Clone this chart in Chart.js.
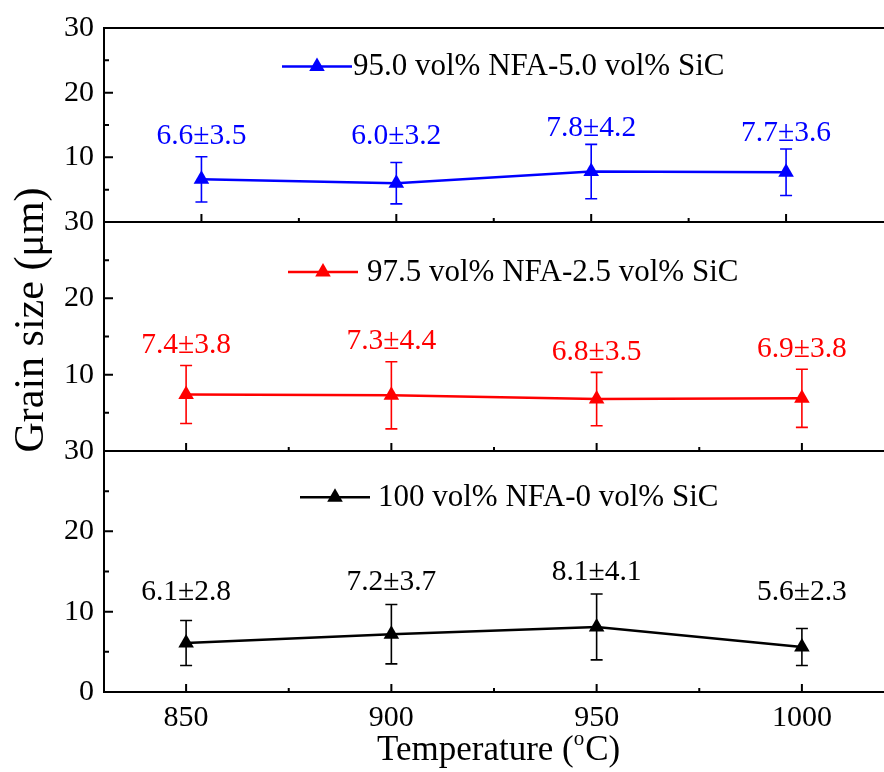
<!DOCTYPE html>
<html>
<head>
<meta charset="utf-8">
<script src="https://cdn.jsdelivr.net/npm/chart.js@4.4.0/dist/chart.umd.min.js"></script>
<style>
  html, body { margin: 0; padding: 0; background: #fff; }
  #wrap { position: relative; width: 884px; height: 772px; overflow: hidden; background: #fff; }
  #wrap canvas { position: absolute; left: 0; top: 0; }
</style>
</head>
<body>
<div id="wrap">
  <canvas id="p1" width="912" height="772"></canvas>
  <canvas id="p2" width="893" height="772"></canvas>
  <canvas id="p3" width="893" height="772"></canvas>
</div>
<script>
// data
const temps = [850, 900, 950, 1000];
const xTicks = [850, 900, 950, 1000];
const yTicks = [0, 10, 20, 30];

const sic5Label = '95.0 vol% NFA-5.0 vol% SiC';
const sic5Mean = [6.6, 6.0, 7.8, 7.7];
const sic5Err = [3.5, 3.2, 4.2, 3.6];

const sic25Label = '97.5 vol% NFA-2.5 vol% SiC';
const sic25Mean = [7.4, 7.3, 6.8, 6.9];
const sic25Err = [3.8, 4.4, 3.5, 3.8];

const sic0Label = '100 vol% NFA-0 vol% SiC';
const sic0Mean = [6.1, 7.2, 8.1, 5.6];
const sic0Err = [2.8, 3.7, 4.1, 2.3];

const yTitle = 'Grain size (\u03bcm)';
const FONT = '"Liberation Serif", "Times New Roman", serif';

function midpoints(arr) {
  const out = [];
  for (let i = 1; i < arr.length; i++) out.push((arr[i - 1] + arr[i]) / 2);
  return out;
}

function makeDeco(cfg) {
  return {
    id: 'deco',
    // error bars under the line and markers
    beforeDatasetsDraw(chart) {
      const { ctx, scales: { x, y } } = chart;
      ctx.save();
      ctx.strokeStyle = cfg.color;
      ctx.lineWidth = 1.6;
      ctx.beginPath();
      cfg.mean.forEach((m, i) => {
        const px = x.getPixelForValue(temps[i]);
        const top = y.getPixelForValue(m + cfg.err[i]);
        const bot = y.getPixelForValue(m - cfg.err[i]);
        ctx.moveTo(px, top); ctx.lineTo(px, bot);
        ctx.moveTo(px - 6, top); ctx.lineTo(px + 6, top);
        ctx.moveTo(px - 6, bot); ctx.lineTo(px + 6, bot);
      });
      ctx.stroke();
      ctx.restore();
    },
    afterDraw(chart) {
      const { ctx, chartArea: a, scales: { x, y } } = chart;
      ctx.save();

      // inward tick marks
      ctx.strokeStyle = '#000';
      ctx.lineWidth = 2;
      ctx.beginPath();
      xTicks.forEach(v => { const px = x.getPixelForValue(v); ctx.moveTo(px, a.bottom); ctx.lineTo(px, a.bottom - 8); });
      midpoints(xTicks).forEach(v => { const px = x.getPixelForValue(v); ctx.moveTo(px, a.bottom); ctx.lineTo(px, a.bottom - 4); });
      yTicks.forEach(v => { const py = y.getPixelForValue(v); ctx.moveTo(a.left, py); ctx.lineTo(a.left + 9, py); });
      midpoints(yTicks).forEach(v => { const py = y.getPixelForValue(v); ctx.moveTo(a.left, py); ctx.lineTo(a.left + 5, py); });
      if (cfg.frameTop) { ctx.moveTo(a.left, a.top); ctx.lineTo(a.right, a.top); }
      ctx.stroke();

      // value labels
      ctx.fillStyle = cfg.color;
      ctx.font = '29.5px ' + FONT;
      ctx.textAlign = 'center';
      ctx.textBaseline = 'alphabetic';
      cfg.mean.forEach((m, i) => {
        const lv = Math.max(cfg.labelLevel, m + cfg.err[i] + cfg.labelGap);
        ctx.fillText(m.toFixed(1) + '\u00b1' + cfg.err[i].toFixed(1), x.getPixelForValue(temps[i]), y.getPixelForValue(lv));
      });

      // legend
      const ly = y.getPixelForValue(cfg.legendValue);
      ctx.strokeStyle = cfg.color;
      ctx.lineWidth = 2.5;
      ctx.beginPath();
      ctx.moveTo(cfg.legendX, ly);
      ctx.lineTo(cfg.legendX + 70, ly);
      ctx.stroke();
      ctx.fillStyle = cfg.color;
      Chart.helpers.drawPoint(ctx, { pointStyle: 'triangle', radius: 9, borderWidth: 0, rotation: 0 }, cfg.legendX + 35, ly);
      ctx.fillStyle = '#000';
      ctx.font = '31px ' + FONT;
      ctx.textAlign = 'left';
      ctx.fillText(cfg.label, cfg.legendTextX, ly + 9);

      // axis titles
      if (cfg.yTitle) {
        ctx.save();
        ctx.translate(43, 320);
        ctx.rotate(-Math.PI / 2);
        ctx.font = '42px ' + FONT;
        ctx.textAlign = 'center';
        ctx.fillText(yTitle, 0, 0);
        ctx.restore();
      }
      if (cfg.xTitle) {
        ctx.font = '35px ' + FONT;
        ctx.textAlign = 'left';
        let tx = 377;
        const base = 760;
        ctx.fillText('Temperature (', tx, base);
        tx += ctx.measureText('Temperature (').width;
        ctx.font = '21px ' + FONT;
        ctx.fillText('o', tx, base - 15);
        tx += ctx.measureText('o').width + 1;
        ctx.font = '35px ' + FONT;
        ctx.fillText('C)', tx, base);
      }
      ctx.restore();
    }
  };
}

function makePanel(id, cfg) {
  const canvas = document.getElementById(id);
  const padBottom = canvas.height - cfg.areaBottom - cfg.xAxisH;
  return new Chart(canvas.getContext('2d'), {
    type: 'line',
    data: {
      datasets: [{
        label: cfg.label,
        data: temps.map((t, i) => ({ x: t, y: cfg.mean[i] })),
        borderColor: cfg.color,
        backgroundColor: cfg.color,
        borderWidth: 2.5,
        pointStyle: 'triangle',
        pointRadius: 9,
        pointBorderWidth: 0,
        pointBackgroundColor: cfg.color,
        tension: 0
      }]
    },
    options: {
      responsive: false,
      animation: false,
      layout: { padding: { top: cfg.areaTop, bottom: padBottom, left: 0, right: 0 } },
      plugins: { legend: { display: false }, tooltip: { enabled: false } },
      scales: {
        x: {
          type: 'linear',
          min: cfg.xMin,
          max: cfg.xMax,
          grid: { display: false, drawTicks: false },
          border: { display: true, color: '#000', width: 2 },
          ticks: {
            display: cfg.showX,
            color: '#000',
            padding: 8,
            font: { family: FONT, size: 30 },
            callback: v => String(v)
          },
          afterBuildTicks: s => { s.ticks = xTicks.map(v => ({ value: v })); },
          afterFit: s => { s.height = cfg.xAxisH; }
        },
        y: {
          type: 'linear',
          min: 0,
          max: 30,
          grid: { display: false, drawTicks: false },
          border: { display: true, color: '#000', width: 2 },
          ticks: {
            color: '#000',
            padding: 10,
            font: { family: FONT, size: 30 },
            callback: v => (v === 0 && !cfg.showZero) ? '' : String(v)
          },
          afterBuildTicks: s => { s.ticks = yTicks.map(v => ({ value: v })); },
          afterFit: s => { s.width = 104; }
        }
      }
    },
    plugins: [makeDeco(cfg)]
  });
}

makePanel('p1', {
  label: sic5Label, mean: sic5Mean, err: sic5Err, color: '#0000ff',
  xMin: 825, xMax: 1030, areaTop: 22, areaBottom: 222, xAxisH: 10,
  showX: false, showZero: false, frameTop: true,
  labelLevel: 12, labelGap: 1.3,
  legendValue: 24.05, legendX: 282, legendTextX: 353
});

makePanel('p2', {
  label: sic25Label, mean: sic25Mean, err: sic25Err, color: '#ff0000',
  xMin: 830, xMax: 1020, areaTop: 222, areaBottom: 451, xAxisH: 10,
  showX: false, showZero: false, yTitle: true,
  labelLevel: 0, labelGap: 1.6,
  legendValue: 23.45, legendX: 288, legendTextX: 367
});

makePanel('p3', {
  label: sic0Label, mean: sic0Mean, err: sic0Err, color: '#000000',
  xMin: 830, xMax: 1020, areaTop: 451, areaBottom: 692, xAxisH: 80,
  showX: true, showZero: true, xTitle: true,
  labelLevel: 11.5, labelGap: 1.8,
  legendValue: 24.25, legendX: 300, legendTextX: 378
});
</script>
</body>
</html>
